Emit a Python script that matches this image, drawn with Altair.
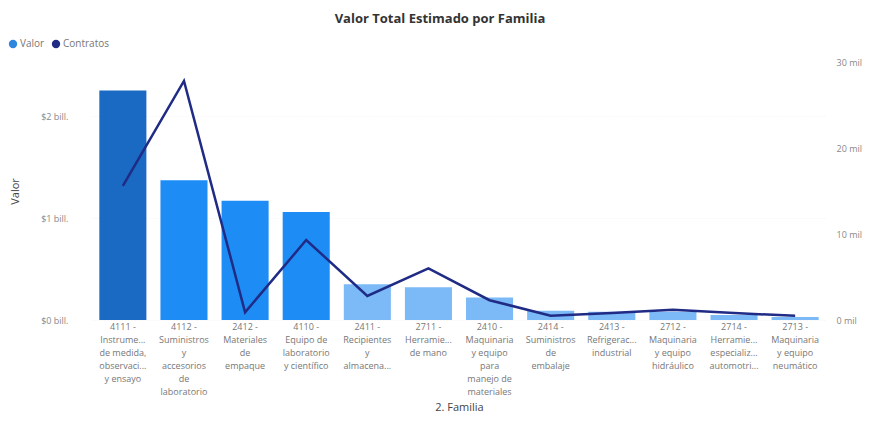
import altair as alt
import pandas as pd

familias = [
    "4111 -|Instrume...|de medida,|observaci...|y ensayo",
    "4112 -|Suministros|y|accesorios|de|laboratorio",
    "2412 -|Materiales|de|empaque",
    "4110 -|Equipo de|laboratorio|y científico",
    "2411 -|Recipientes|y|almacena...",
    "2711 -|Herramie...|de mano",
    "2410 -|Maquinaria|y equipo|para|manejo de|materiales",
    "2414 -|Suministros|de|embalaje",
    "2413 -|Refrigerac...|industrial",
    "2712 -|Maquinaria|y equipo|hidráulico",
    "2714 -|Herramie...|especializ...|automotri...",
    "2713 -|Maquinaria|y equipo|neumático",
]
# Valor in billones (10^12)
valor = [2.25, 1.37, 1.17, 1.06, 0.35, 0.32, 0.22, 0.09, 0.08, 0.08, 0.05, 0.03]
# Contratos (count)
contratos = [15600, 27800, 900, 9300, 2800, 6000, 2300, 500, 800, 1200, 800, 500]

df = pd.DataFrame({"familia": familias, "valor": valor, "contratos": contratos})
leg_df = pd.DataFrame({"serie": ["Valor", "Contratos"]})

xenc = alt.X(
    "familia:N",
    sort=None,
    scale=alt.Scale(paddingInner=0.23, paddingOuter=0.12),
    axis=alt.Axis(
        title="2. Familia",
        labelExpr="split(datum.label, '|')",
        labelAngle=0,
        labelFontSize=9,
        labelColor="#777777",
        labelLineHeight=13,
        labelPadding=2,
        labelBaseline="top",
        ticks=False,
        domain=False,
        grid=False,
        titleFontSize=11,
        titleFontWeight="normal",
        titleColor="#444444",
        titlePadding=5,
        labelLimit=80,
    ),
)

bars = alt.Chart(df).mark_bar().encode(
    x=xenc,
    y=alt.Y(
        "valor:Q",
        scale=alt.Scale(domain=[0, 2.53], nice=False),
        axis=alt.Axis(
            title="Valor",
            values=[0, 1, 2],
            labelExpr="'$' + datum.value + ' bill.'",
            labelFontSize=9,
            labelColor="#888888",
            labelPadding=24,
            ticks=False,
            domain=False,
            grid=True,
            gridColor="#f0f0f0",
            gridDash=[1, 2],
            titleFontSize=11,
            titleFontWeight="normal",
            titleColor="#444444",
            titlePadding=20,
        ),
    ),
    color=alt.Color(
        "valor:Q",
        scale=alt.Scale(type="threshold", domain=[0.5, 2.0], range=["#7BB9F7", "#1E8CF5", "#1A6AC4"]),
        legend=None,
    ),
)

line = alt.Chart(df).mark_line(color="#1F2B85", strokeWidth=2.5).encode(
    x=alt.X("familia:N", sort=None),
    y=alt.Y(
        "contratos:Q",
        scale=alt.Scale(domain=[0, 30000], nice=False),
        axis=alt.Axis(
            title=None,
            orient="right",
            values=[0, 10000, 20000, 30000],
            labelExpr="(datum.value / 1000) + ' mil'",
            labelFontSize=9,
            labelColor="#888888",
            labelPadding=10,
            ticks=False,
            domain=False,
            grid=False,
        ),
    ),
)

legend_layer = alt.Chart(leg_df).mark_circle(opacity=0).encode(
    color=alt.Color(
        "serie:N",
        sort=["Valor", "Contratos"],
        scale=alt.Scale(domain=["Valor", "Contratos"], range=["#2E86DE", "#1F2B85"]),
        legend=alt.Legend(
            title=None,
            orient="none",
            legendX=-84,
            legendY=-23,
            direction="horizontal",
            symbolType="circle",
            symbolOpacity=1,
            symbolSize=70,
            labelFontSize=10,
            labelColor="#777777",
            columnPadding=6,
            labelOffset=2,
        ),
    ),
)

chart = (
    alt.layer(bars, line, legend_layer)
    .resolve_scale(y="independent")
    .properties(
        width=734,
        height=258,
        autosize=alt.AutoSizeParams(type="none"),
        padding={"left": 84, "top": 54, "right": 43, "bottom": 95},
        view=alt.ViewBackground(stroke="transparent", strokeWidth=0),
        title=alt.TitleParams(
            "Valor Total Estimado por Familia",
            fontSize=13,
            fontWeight="bold",
            color="#333333",
            anchor="middle",
            offset=13,
            dx=-19,
        ),
    )
    .configure_view(strokeWidth=0, stroke="transparent")
    .configure_axis(domain=False, ticks=False)
    .configure(font="Open Sans")
)

chart.save("out.html", embed_options={"renderer": "svg", "actions": False})
